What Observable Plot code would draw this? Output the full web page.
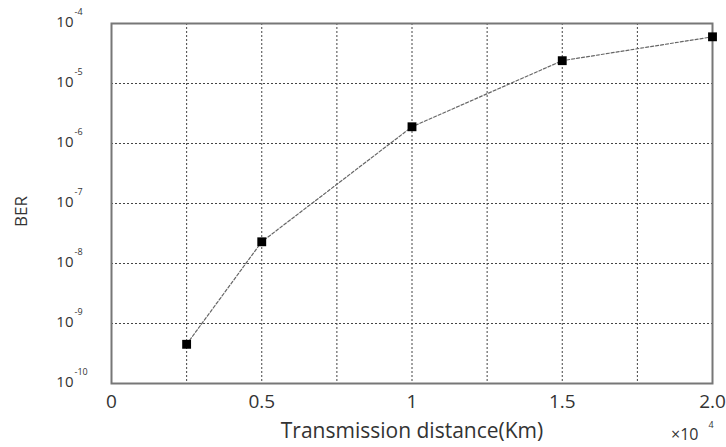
<!DOCTYPE html>
<html>
<head>
<meta charset="utf-8">
<script src="https://cdn.jsdelivr.net/npm/d3@7"></script>
<script src="https://cdn.jsdelivr.net/npm/@observablehq/plot@0.6"></script>
<style>
  html, body { margin: 0; padding: 0; background: #fff; }
  svg { font-family: "Open Sans", sans-serif; }
</style>
</head>
<body>
<div id="chart"></div>
<script>
const distances = [2500, 5000, 10000, 15000, 20000];
const berValues = [4.5e-10, 2.3e-8, 1.9e-6, 2.4e-5, 6.0e-5];
const xTickValues = [0, 5000, 10000, 15000, 20000];
const xTickLabels = ["0", "0.5", "1", "1.5", "2.0"];
const xGridValues = [2500, 5000, 7500, 10000, 12500, 15000, 17500];
const yTickValues = [1e-4, 1e-5, 1e-6, 1e-7, 1e-8, 1e-9, 1e-10];
const yTickExponents = ["-4", "-5", "-6", "-7", "-8", "-9", "-10"];

const pts = distances.map((d, i) => ({d, ber: berValues[i]}));
const yt = yTickValues.map((v, i) => ({v, e: yTickExponents[i]}));
const xt = xTickValues.map((v, i) => ({v, l: xTickLabels[i]}));

const chart = Plot.plot({
  width: 726,
  height: 447,
  marginLeft: 111,
  marginRight: 14,
  marginTop: 23,
  marginBottom: 64,
  style: {fontFamily: "Open Sans, sans-serif", background: "#fff"},
  x: {domain: [0, 20000], axis: null},
  y: {type: "log", domain: [1e-10, 1e-4], axis: null},
  marks: [
    Plot.ruleX(xGridValues, {stroke: "#444", strokeWidth: 1, strokeDasharray: "2,2"}),
    Plot.ruleY(yTickValues.slice(1, -1), {stroke: "#444", strokeWidth: 1, strokeDasharray: "2,2"}),
    Plot.frame({stroke: "#777", strokeWidth: 2}),
    Plot.line(pts, {x: "d", y: "ber", stroke: "#666", strokeWidth: 1.2, strokeDasharray: "3,2"}),
    Plot.dot(pts, {x: "d", y: "ber", symbol: "square", r: 5, fill: "#000", stroke: "none"}),
    // y tick labels
    Plot.text(yt, {x: 0, y: "v", text: () => "10", textAnchor: "end", dx: -38, dy: -1, fontSize: 15, fill: "#333"}),
    Plot.text(yt, {x: 0, y: "v", text: "e", textAnchor: "start", dx: -37, dy: -11, fontSize: 9, fill: "#333"}),
    // x tick labels
    Plot.text(xt, {x: "v", y: 1e-10, text: "l", dy: 18, fontSize: 19, fill: "#333"}),
    // axis titles
    Plot.text(["Transmission distance(Km)"], {x: 10000, y: 1e-10, text: d => d, dy: 48, fontSize: 21, fill: "#333"}),
    Plot.text(["×10"], {x: 20000, y: 1e-10, text: d => d, textAnchor: "end", dx: -14, dy: 51, fontSize: 16, fill: "#333"}),
    Plot.text(["4"], {x: 20000, y: 1e-10, text: d => d, textAnchor: "start", dx: -4, dy: 42, fontSize: 9, fill: "#333"}),
    Plot.text(["BER"], {x: 0, y: 1e-7, text: d => d, rotate: -90, dx: -90, dy: 8, fontSize: 17, fill: "#333"})
  ]
});
document.getElementById("chart").appendChild(chart);
</script>
</body>
</html>
